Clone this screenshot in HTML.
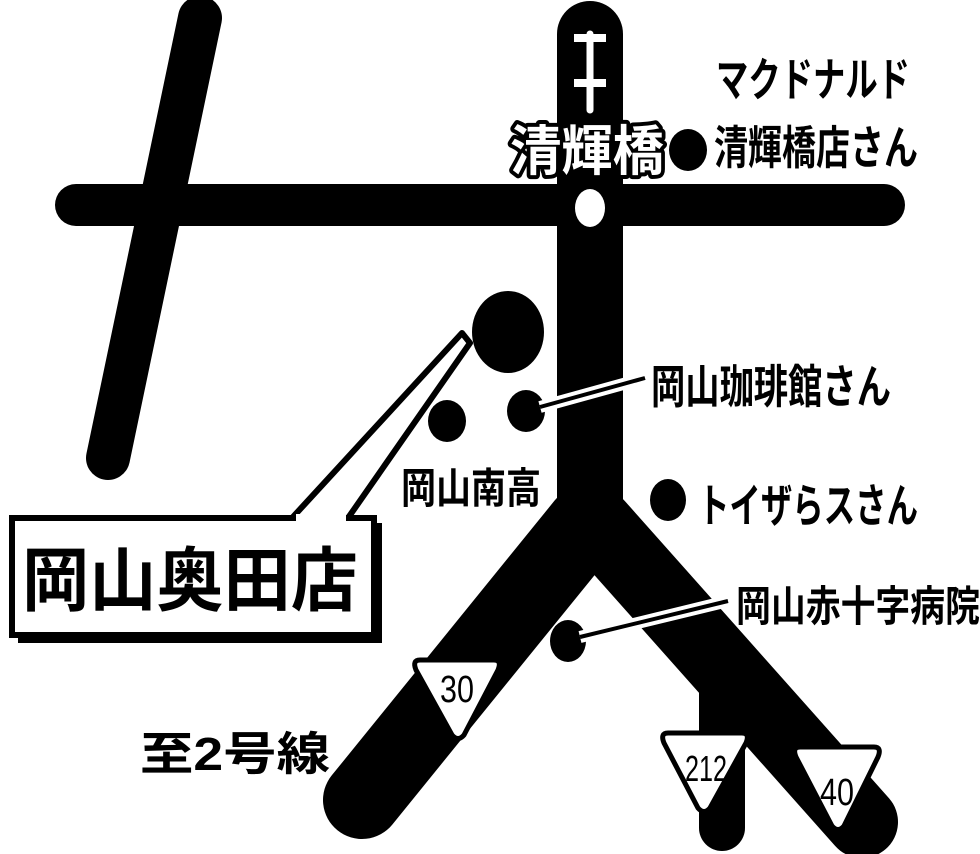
<!DOCTYPE html>
<html><head><meta charset="utf-8"><style>
html,body{margin:0;padding:0;background:#fff;}
svg{display:block;}
text{font-family:"Liberation Sans","Noto Sans CJK JP",sans-serif;}
</style></head><body>
<svg width="980" height="854" viewBox="0 0 980 854" xmlns="http://www.w3.org/2000/svg">
<rect width="980" height="854" fill="#fff"/>
<g stroke="#000" stroke-linecap="round" fill="none">
<line x1="200" y1="18" x2="108" y2="458" stroke-width="44"/>
<line x1="76" y1="205" x2="884" y2="205" stroke-width="42"/>
<line x1="590" y1="34" x2="590" y2="530" stroke-width="66"/>
<line x1="585" y1="525" x2="362" y2="800" stroke-width="78"/>
<line x1="598" y1="525" x2="862" y2="822" stroke-width="72"/>
<line x1="722" y1="680" x2="722" y2="828" stroke-width="46"/>
</g>
<polygon points="690,640 745,700 745,760 700,760 700,690" fill="#000"/>
<g stroke="#fff" stroke-width="7" fill="none" stroke-linecap="round">
<line x1="590" y1="34" x2="590" y2="110"/>
</g>
<rect x="574" y="34" width="32" height="8" fill="#fff"/>
<rect x="574" y="79" width="32" height="8" fill="#fff"/>
<ellipse cx="590" cy="208" rx="15" ry="19" fill="#fff"/>
<ellipse cx="508" cy="332" rx="36" ry="41" fill="#000"/>
<ellipse cx="447" cy="421" rx="19" ry="21" fill="#000"/>
<ellipse cx="526" cy="411" rx="19" ry="21" fill="#000"/>
<ellipse cx="688" cy="150" rx="19" ry="21" fill="#000"/>
<ellipse cx="668" cy="500" rx="18" ry="21" fill="#000"/>
<ellipse cx="568" cy="641" rx="18" ry="21" fill="#000"/>
<g stroke-linecap="butt">
<line x1="540" y1="407" x2="645" y2="378" stroke="#fff" stroke-width="12"/>
<line x1="540" y1="407" x2="645" y2="378" stroke="#000" stroke-width="4"/>
<line x1="580" y1="637" x2="728" y2="601" stroke="#fff" stroke-width="12"/>
<line x1="580" y1="637" x2="728" y2="601" stroke="#000" stroke-width="4"/>
</g>
<rect x="18" y="523" width="364" height="120" fill="#000"/>
<polygon points="292,518 462,333 470,343 348,518" fill="#fff" stroke="#000" stroke-width="6" stroke-linejoin="round"/>
<rect x="12" y="518" width="362" height="117" fill="#fff" stroke="#000" stroke-width="6"/>
<rect x="296" y="514" width="50" height="10" fill="#fff"/>
<text x="22" y="605" font-size="70" font-weight="bold" textLength="336" lengthAdjust="spacingAndGlyphs" fill="#000">岡山奥田店</text>
<text x="510" y="170" font-size="54" font-weight="bold" textLength="154" lengthAdjust="spacingAndGlyphs" fill="#fff" stroke="#000" stroke-width="8" paint-order="stroke" stroke-linejoin="round">清輝橋</text>
<g font-weight="bold" fill="#000">
<text x="716" y="96" font-size="46" textLength="194" lengthAdjust="spacingAndGlyphs">マクドナルド</text>
<text x="714" y="164" font-size="46" textLength="204" lengthAdjust="spacingAndGlyphs">清輝橋店さん</text>
<text x="651" y="403" font-size="46" textLength="240" lengthAdjust="spacingAndGlyphs">岡山珈琲館さん</text>
<text x="401" y="503" font-size="42" textLength="140" lengthAdjust="spacingAndGlyphs">岡山南高</text>
<text x="698" y="522" font-size="46" textLength="220" lengthAdjust="spacingAndGlyphs">トイザらスさん</text>
<text x="736" y="621" font-size="42" textLength="244" lengthAdjust="spacingAndGlyphs">岡山赤十字病院</text>
<text x="140" y="770" font-size="46" textLength="190" lengthAdjust="spacingAndGlyphs">至2号線</text>
</g>
<g fill="#fff" stroke="#000" stroke-width="5" stroke-linejoin="round">
<path d="M420,660 Q412,660 416,670 L452,735 Q458,742 464,735 L498,670 Q502,660 494,660 Z"/>
<path d="M668,733 Q660,733 664,743 L698,808 Q704,815 710,808 L746,743 Q750,733 742,733 Z"/>
<path d="M800,747 Q792,747 796,757 L832,826 Q838,833 844,826 L878,757 Q882,747 874,747 Z"/>
</g>
<text x="440" y="702" font-size="38" textLength="34" lengthAdjust="spacingAndGlyphs" fill="#000">30</text>
<text x="685" y="781" font-size="36" textLength="42" lengthAdjust="spacingAndGlyphs" fill="#000">212</text>
<text x="820" y="805" font-size="38" textLength="34" lengthAdjust="spacingAndGlyphs" fill="#000">40</text>
</svg>
</body></html>
